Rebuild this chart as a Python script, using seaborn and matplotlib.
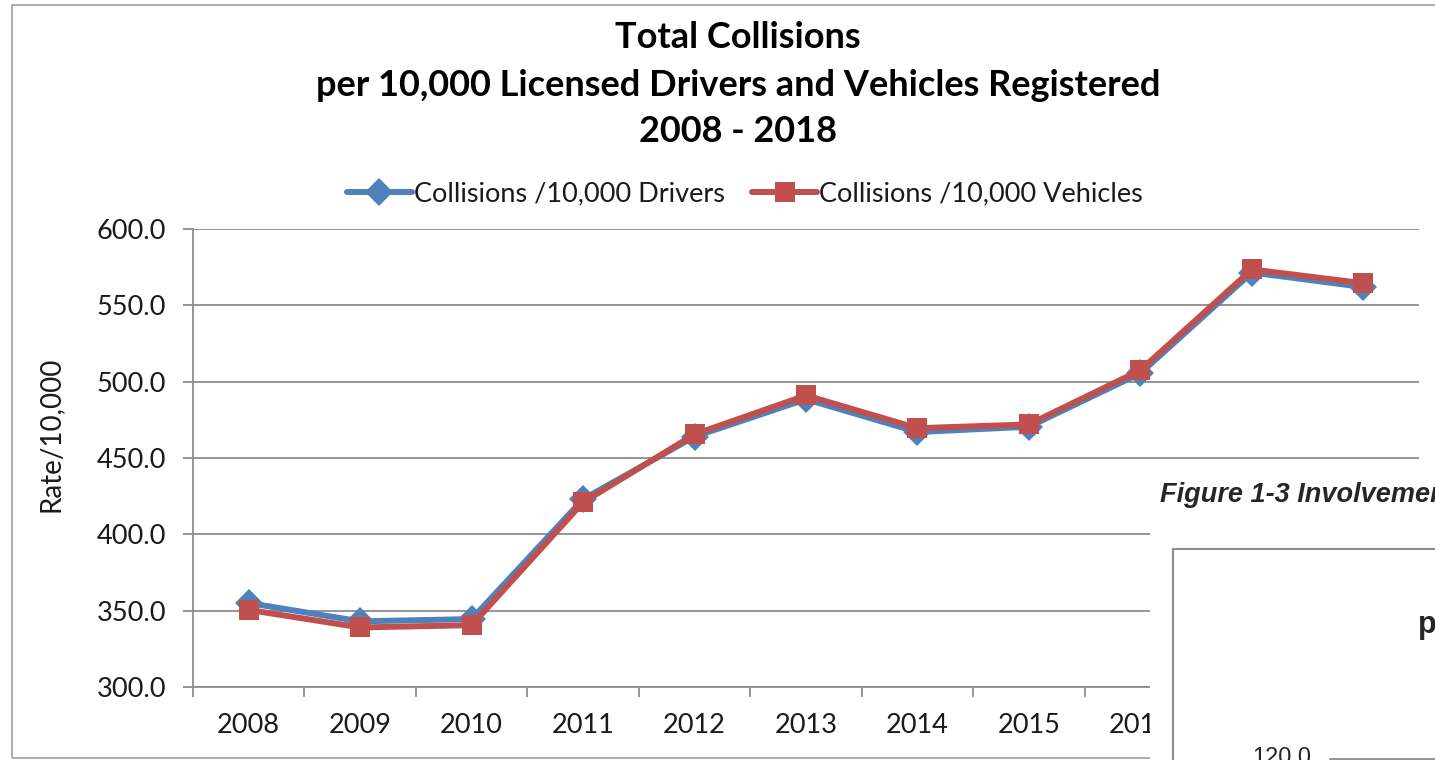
import numpy as np
import pandas as pd
import seaborn as sns
import matplotlib
matplotlib.use("Agg")
import matplotlib.pyplot as plt
from matplotlib.patches import Rectangle
from matplotlib.lines import Line2D
from matplotlib.ticker import FixedLocator, FuncFormatter

# ---- data ----
years = [2008, 2009, 2010, 2011, 2012, 2013, 2014, 2015, 2016, 2017, 2018]
drivers = [355.0, 343.0, 344.5, 423.0, 464.0, 488.5, 467.0, 470.5, 505.5, 571.5, 562.0]
vehicles = [350.5, 339.0, 340.5, 421.0, 465.5, 491.0, 469.5, 472.0, 507.5, 573.5, 564.5]
series_names = ["Collisions /10,000 Drivers", "Collisions /10,000 Vehicles"]
yticks = [300, 350, 400, 450, 500, 550, 600]
title_lines = ["Total Collisions",
               "per 10,000 Licensed Drivers and Vehicles Registered",
               "2008 - 2018"]

sns.set_theme(style="white")
plt.rcParams['font.family'] = ['Lato', 'DejaVu Sans']

W, H = 1435, 760
fig = plt.figure(figsize=(W / 100, H / 100), dpi=100)

def fx(px):
    return px / W

def fy(py):
    return 1 - py / H

left, right, top, bottom = 193, 1419, 229, 687
ax = fig.add_axes([fx(left), fy(bottom), fx(right - left), (bottom - top) / H])

df = pd.DataFrame({
    "Year": years * 2,
    "Rate": drivers + vehicles,
    "Series": [series_names[0]] * len(years) + [series_names[1]] * len(years),
})

blue = "#4F81BD"
red = "#C0504D"
sns.lineplot(data=df, x="Year", y="Rate", hue="Series", style="Series",
             palette={series_names[0]: blue, series_names[1]: red},
             markers={series_names[0]: "D", series_names[1]: "s"},
             dashes=False, linewidth=4.3, markersize=14.5,
             markeredgewidth=0, ax=ax, legend=True)

handles, labels = ax.get_legend_handles_labels()
ax.get_legend().remove()

grid_c = "#8c8c8c"
ax.set_ylim(300, 600)
ax.set_xlim(years[0] - 0.5, years[-1] + 0.5)
ax.yaxis.set_major_locator(FixedLocator(yticks))
ax.yaxis.set_major_formatter(FuncFormatter(lambda v, p: f"{v:.1f}"))
ax.xaxis.set_major_locator(FixedLocator(years))
ax.xaxis.set_major_formatter(FuncFormatter(lambda v, p: f"{int(round(v))}"))
ax.xaxis.set_minor_locator(FixedLocator([y - 0.5 for y in years] + [years[-1] + 0.5]))
ax.grid(axis="y", color=grid_c, linewidth=1.3)
ax.set_axisbelow(True)
for s in ["top", "right"]:
    ax.spines[s].set_visible(False)
for s in ["left", "bottom"]:
    ax.spines[s].set_color(grid_c)
    ax.spines[s].set_linewidth(1.3)
ax.tick_params(axis="y", which="major", length=7.5, width=1.3, color=grid_c,
               direction="out", labelsize=19.5, pad=12, left=True,
               labelcolor="#1a1a1a")
ax.tick_params(axis="x", which="major", length=0, labelsize=19.5, pad=19,
               labelcolor="#1a1a1a")
ax.tick_params(axis="x", which="minor", length=7.5, width=1.3, color=grid_c,
               direction="out", bottom=True)
ax.set_xlabel("")
ax.set_ylabel("")

# title
for txt, py in zip(title_lines, [38, 85, 132]):
    fig.text(fx(738), fy(py), txt, ha="center", va="center",
             fontsize=26, fontweight="bold", color="#000000")

# y label
fig.text(fx(51), fy(434), "Rate/10,000", rotation=90, ha="center", va="center",
         fontsize=20, color="#1a1a1a")

# legend
fig.legend(handles, labels, loc="center", bbox_to_anchor=(fx(745), fy(194)),
           ncol=2, frameon=False, fontsize=19.5, handlelength=2.4,
           columnspacing=1.0, handletextpad=0.08, labelcolor="#1a1a1a")

# outer chart border
fig.add_artist(Rectangle((fx(12), fy(758)), 1.2, (758 - 5) / H,
                         transform=fig.transFigure, fill=False,
                         edgecolor="#a6a6a6", linewidth=1.3, zorder=1))

# overlapping next figure (white cover)
fig.add_artist(Rectangle((fx(1150), -0.05), 1.0, fy(470) + 0.05,
                         transform=fig.transFigure, facecolor="white",
                         edgecolor="none", zorder=5))
fig.text(fx(1160), fy(495), "Figure 1-3 Involvement", ha="left", va="center",
         fontsize=19.5, fontweight="bold", fontstyle="italic",
         family=["Liberation Sans", "DejaVu Sans"], zorder=6)
fig.add_artist(Rectangle((fx(1173), -0.05), 1.0, fy(549) + 0.05,
                         transform=fig.transFigure, facecolor="white",
                         edgecolor="#8c8c8c", linewidth=1.5, zorder=6))
fig.text(fx(1418), fy(625), "p", ha="left", va="center",
         fontsize=22, fontweight="bold",
         family=["Liberation Sans", "DejaVu Sans"], zorder=7)
fig.text(fx(1282), fy(747), "120.0", ha="center", va="top",
         fontsize=17, family=["Liberation Sans", "DejaVu Sans"], zorder=7)
fig.add_artist(Line2D([fx(1330), 1.0], [fy(758.5), fy(758.5)],
                      transform=fig.transFigure, color="#8c8c8c",
                      linewidth=1.3, zorder=7))

fig.savefig("out.png", dpi=100)
